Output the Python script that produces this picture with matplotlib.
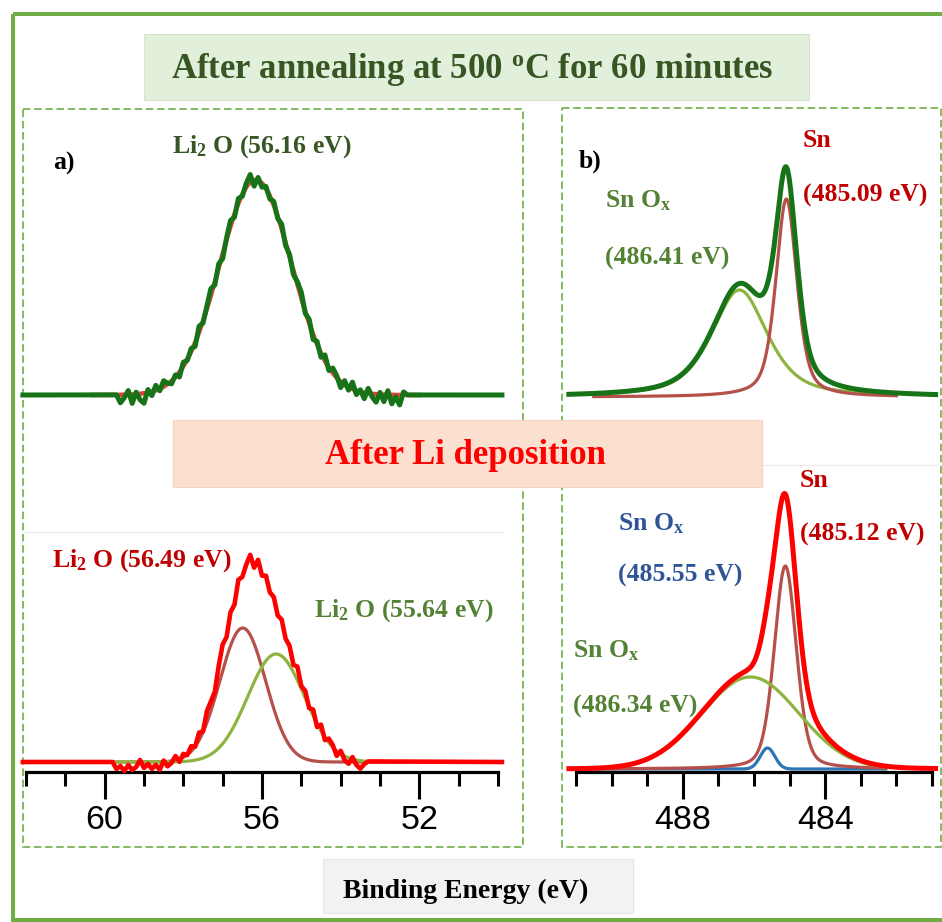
import numpy as np
import matplotlib
matplotlib.use('Agg')
import matplotlib.pyplot as plt
from matplotlib.patches import Rectangle

plt.rcParams['font.family'] = ['Liberation Serif', 'DejaVu Serif']
plt.rcParams['mathtext.fontset'] = 'custom'
plt.rcParams['mathtext.rm'] = 'Liberation Serif:bold'
plt.rcParams['mathtext.it'] = 'Liberation Serif:bold'
plt.rcParams['mathtext.bf'] = 'Liberation Serif:bold'

# ---------------- data (binding energy in eV, intensity in a.u.) ----------------
# a) Li 1s after annealing : one fitted component + measured spectrum
a_center = [56.16]
a_height = [215]
a_fwhm = [2.16]
a_eta = [0.0]
a_fit_range = [60.3, 52.0]
a_raw_start = 59.7
a_raw_step = 0.1
a_raw_resid = [0, -8, -3, 4, -9, 2, -6, -10, 3, -4,
               5, -2, 6, 1, -3, 2, -5, 4, -1, 3,
               -4, 6, -2, 3, 7, -3, 4, -5, 2, 6,
               -3, 5, -2, 4, 8, -6, 3, -4, 2, -3,
               4, -2, 5, -3, 2, -4, 3, 6, -2, 4,
               -5, 3, -4, 6, -3, 5, 2, -6, 4, -3,
               7, -4, 2, -6, 5, -3, -8, 2, -7, 4,
               -9, -2, -10, 3, 0]

# c) Li 1s after Li deposition : two components + measured spectrum
c_center = [56.49, 55.64]
c_height = [134, 108]
c_fwhm = [1.37, 1.70]
c_eta = [0.0, 0.0]
c_fit_range = [59.8, 52.4]
c_raw_start = 59.8
c_raw_step = 0.1
c_raw_resid = [0, -7, -4, -9, -3, -8, -5, 2, -6, -2,
               -7, -3, -8, 1, -5, -2, 4, -3, 3, -1,
               4, -2, 5, -3, 6, 2, -4, 5, 8, -3,
               4, -5, 6, -2, 3, 9, -4, 7, -3, 5,
               -2, 4, -3, 5, -2, 3, -4, 6, -2, 4,
               -3, 5, -4, 6, -3, 4, 2, -5, 3, -4,
               -6, 2, -5, -8, -3, 0]

# b) Sn 3d after annealing : Sn, SnOx
b_center = [485.09, 486.41]
b_height = [198, 107]
b_fwhm = [0.70, 1.86]
b_eta = [0.5, 0.6]
b_fit_range = [490.5, 482.0]

# d) Sn 3d after Li deposition : Sn, SnOx (green), SnOx (blue)
d_center = [485.12, 486.10, 485.62]
d_height = [203, 92, 21]
d_fwhm = [0.73, 3.2, 0.48]
d_eta = [0.3, 0.0, 0.0]
d_fit_range = [490.8, 482.3]

li_xlim = [62, 50]
li_major = [60, 56, 52]
li_minor = list(range(50, 63))
sn_xlim = [491, 481]
sn_major = [488, 484]
sn_minor = list(range(481, 492))

# ---------------- helpers ----------------
def pv(x, c, h, w, eta):
    u = (x - c) / w
    return h * (eta / (1 + 4 * u ** 2) + (1 - eta) * np.exp(-4 * np.log(2) * u ** 2))


def total(x, cs, hs, ws, es):
    return sum(pv(x, c, h, w, e) for c, h, w, e in zip(cs, hs, ws, es))


W, H = 942, 922
fig = plt.figure(figsize=(W / 100, H / 100), dpi=100)

# background / decoration axes in pixel coordinates
bg = fig.add_axes([0, 0, 1, 1])
bg.set_xlim(0, W)
bg.set_ylim(H, 0)
bg.axis('off')

GREEN_FRAME = '#70AD47'
bg.add_patch(Rectangle((12.5, 14.5), 940, 905.5, fill=False, lw=2.9, ec=GREEN_FRAME, zorder=1))
# dashed panels
bg.add_patch(Rectangle((23, 109), 500, 738, fill=False, lw=1.2, ec=GREEN_FRAME,
                       ls=(0, (4.5, 2.2)), zorder=1))
bg.add_patch(Rectangle((562, 108), 379, 739, fill=False, lw=1.2, ec=GREEN_FRAME,
                       ls=(0, (4.5, 2.2)), zorder=1))
# faint plot-area borders
bg.plot([25, 503], [532, 532], color='#EDEDED', lw=1, zorder=1)
bg.plot([564, 940], [465, 465], color='#EDEDED', lw=1, zorder=1)
# title box
bg.add_patch(Rectangle((144, 34), 665, 66, fc='#E2EFDA', ec='#D5E5CB', lw=0.8, zorder=2))
bg.text(171, 78, 'After annealing at 500 $^{\\mathrm{o}}$C for 60 minutes', fontsize=25,
        fontweight='bold', color='#375623', ha='left', va='baseline', zorder=3)
# salmon box
bg.add_patch(Rectangle((173, 420), 589, 67, fc='#FBE0CF', ec='#F6D2BD', lw=0.8, zorder=2))
bg.text(325, 464, 'After Li deposition', fontsize=25, fontweight='bold', color='#FF0000',
        ha='left', va='baseline', zorder=3)
# x label box
bg.add_patch(Rectangle((323, 859), 310, 54, fc='#F2F2F2', ec='#E6E6E6', lw=0.8, zorder=2))
bg.text(343, 898, 'Binding Energy (eV)', fontsize=20, fontweight='bold', color='black',
        ha='left', va='baseline', zorder=3)

# panel labels / annotations
LBL = 18.5
def lab(x, y, s, c):
    bg.text(x, y, s, fontsize=LBL, fontweight='bold', color=c, ha='left', va='baseline', zorder=3)

DKGREEN = '#375623'
OLIVE = '#548235'
DKRED = '#C00000'
BLUE = '#2F5597'
lab(53, 170, 'a)', 'black')
lab(172, 153, 'Li$_2$ O (56.16 eV)', DKGREEN)
lab(579, 168, 'b)', 'black')
lab(803, 147, 'Sn', DKRED)
lab(803, 202, '(485.09 eV)', DKRED)
lab(605, 207, 'Sn O$_\\mathrm{x}$', OLIVE)
lab(605, 265, '(486.41 eV)', OLIVE)
lab(52, 567, 'Li$_2$ O (56.49 eV)', DKRED)
lab(314, 617, 'Li$_2$ O (55.64 eV)', OLIVE)
lab(800, 487, 'Sn', DKRED)
lab(800, 541, '(485.12 eV)', DKRED)
lab(618, 530, 'Sn O$_\\mathrm{x}$', BLUE)
lab(618, 582, '(485.55 eV)', BLUE)
lab(573, 657, 'Sn O$_\\mathrm{x}$', OLIVE)
lab(573, 713, '(486.34 eV)', OLIVE)


def make_ax(x0, x1, ytop, ybot, base, xlim):
    ax = fig.add_axes([x0 / W, 1 - ybot / H, (x1 - x0) / W, (ybot - ytop) / H])
    ax.set_xlim(xlim)
    ax.set_ylim(-(ybot - base), base - ytop)
    ax.set_facecolor('none')
    ax.yaxis.set_visible(False)
    for s in ['left', 'right', 'top']:
        ax.spines[s].set_visible(False)
    return ax


def style_bottom(ax, major, minor):
    ax.spines['bottom'].set_linewidth(2.3)
    ax.set_xticks(major)
    ax.set_xticklabels([str(v) for v in major], fontfamily='Liberation Sans')
    ax.set_xticks([v for v in minor if v not in major], minor=True)
    ax.tick_params(axis='x', which='major', length=19.5, width=2.2, direction='out',
                   pad=4, labelsize=24.5)
    ax.tick_params(axis='x', which='minor', length=10, width=2.2, direction='out')


def hide_bottom(ax):
    ax.spines['bottom'].set_visible(False)
    ax.set_xticks([])


C_RAWGREEN = '#177317'
C_FITRED = '#E0443C'
C_BROWN = '#B5504B'
C_OLIVE = '#8DB43E'
C_RED = '#FF0000'
C_BLUE = '#2E75B6'

# ---------- a) ----------
ax_a = make_ax(26, 498, 130, 405, 395, li_xlim)
hide_bottom(ax_a)
xf = np.linspace(a_fit_range[0], a_fit_range[1], 600)
ax_a.plot(xf, total(xf, a_center, a_height, a_fwhm, a_eta), color=C_FITRED, lw=3.2,
          clip_on=False, zorder=2)
xr = a_raw_start - a_raw_step * np.arange(len(a_raw_resid))
yr = total(xr, a_center, a_height, a_fwhm, a_eta) + np.array(a_raw_resid)
ax_a.plot(np.r_[62.08, xr, 49.9], np.r_[0, yr, 0], color=C_RAWGREEN, lw=3.6,
          clip_on=False, zorder=3)

# ---------- c) ----------
ax_c = make_ax(26, 498, 540, 772, 762, li_xlim)
style_bottom(ax_c, li_major, li_minor)
xf = np.linspace(c_fit_range[0], c_fit_range[1], 600)
ax_c.plot(xf, pv(xf, c_center[0], c_height[0], c_fwhm[0], c_eta[0]), color=C_BROWN, lw=2.3,
          clip_on=False, zorder=2)
ax_c.plot(xf, pv(xf, c_center[1], c_height[1], c_fwhm[1], c_eta[1]), color=C_OLIVE, lw=2.3,
          clip_on=False, zorder=2)
xr = c_raw_start - c_raw_step * np.arange(len(c_raw_resid))
yr = total(xr, c_center, c_height, c_fwhm, c_eta) + np.array(c_raw_resid)
ax_c.plot(np.r_[62.08, xr, 49.9], np.r_[0, yr, 0], color=C_RED, lw=3.3,
          clip_on=False, zorder=3)

# ---------- b) ----------
ax_b = make_ax(576, 932, 130, 405, 397, sn_xlim)
hide_bottom(ax_b)
xf = np.linspace(b_fit_range[0], b_fit_range[1], 800)
ax_b.plot(xf, pv(xf, b_center[1], b_height[1], b_fwhm[1], b_eta[1]), color=C_OLIVE, lw=2.3,
          clip_on=False, zorder=2)
ax_b.plot(xf, pv(xf, b_center[0], b_height[0], b_fwhm[0], b_eta[0]), color=C_BROWN, lw=2.3,
          clip_on=False, zorder=2)
xe = np.linspace(491.2, 480.9, 900)
ax_b.plot(xe, total(xe, b_center, b_height, b_fwhm, b_eta), color=C_RAWGREEN, lw=3.6,
          clip_on=False, zorder=3)

# ---------- d) ----------
ax_d = make_ax(576, 932, 470, 772, 769, sn_xlim)
style_bottom(ax_d, sn_major, sn_minor)
xf = np.linspace(d_fit_range[0], d_fit_range[1], 800)
ax_d.plot(xf, pv(xf, d_center[2], d_height[2], d_fwhm[2], d_eta[2]), color=C_BLUE, lw=2.3,
          clip_on=False, zorder=2)
ax_d.plot(xf, pv(xf, d_center[0], d_height[0], d_fwhm[0], d_eta[0]), color=C_BROWN, lw=2.3,
          clip_on=False, zorder=2)
ax_d.plot(xf, pv(xf, d_center[1], d_height[1], d_fwhm[1], d_eta[1]), color=C_OLIVE, lw=2.3,
          clip_on=False, zorder=2)
xe = np.linspace(491.2, 480.9, 900)
ax_d.plot(xe, total(xe, d_center, d_height, d_fwhm, d_eta), color=C_RED, lw=3.6,
          clip_on=False, zorder=3)

fig.savefig('out.png', dpi=100)
